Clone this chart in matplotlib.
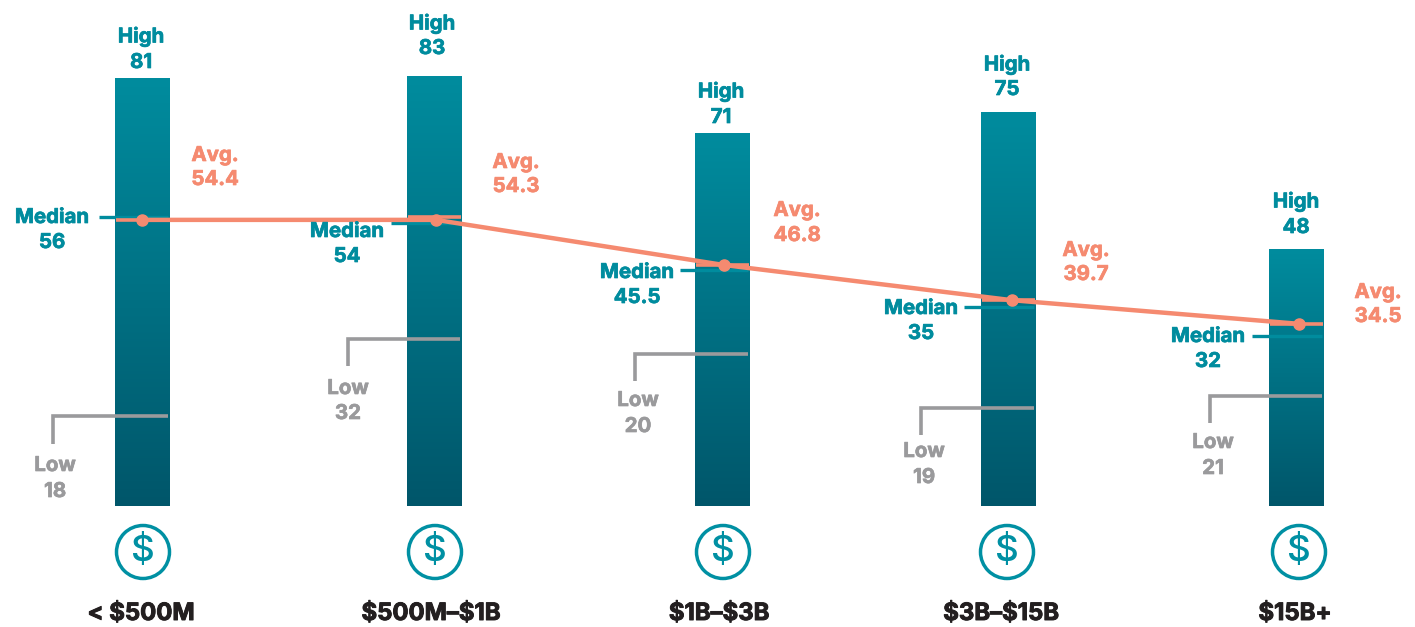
import numpy as np
import matplotlib
matplotlib.use("Agg")
import matplotlib.pyplot as plt
import matplotlib.patheffects as pe
from matplotlib.patches import Circle

# segment labels and the numbers printed on the chart
segments = ["< \\$500M", "\\$500M–\\$1B", "\\$1B–\\$3B", "\\$3B–\\$15B", "\\$15B+"]
high_labels = ["81", "83", "71", "75", "48"]
median_labels = ["56", "54", "45.5", "35", "32"]
low_labels = ["18", "32", "20", "19", "21"]
avg_labels = ["54.4", "54.3", "46.8", "39.7", "34.5"]

# heights as they are actually drawn, these don't always agree with the printed numbers
high_drawn = [81.5, 81.9, 70.9, 75.0, 48.8]
median_drawn = [55.0, 53.9, 45.0, 38.0, 32.4]
low_drawn = [17.1, 31.8, 29.0, 18.7, 21.0]
avg_drawn = [54.5, 54.5, 45.9, 39.2, 34.7]
avg_tick = [54.4, 55.0, 45.9, 39.2, 34.7]

# layout in pixels
bar_x = [142.5, 434.5, 722.5, 1008.5, 1296.5]
dot_x = [142, 436, 724, 1012, 1299]
icon_x = [143, 435, 723, 1007, 1299]
seg_x = [141, 431, 719, 1001, 1295]
high_pos = [(141, 37, 63), (432, 24, 49), (721, 92, 118), (1007, 65, 90), (1296, 202, 228)]
avg_pos = [(215, 156, 180), (516, 163, 187), (797, 211, 236), (1086, 251, 275), (1378, 293, 317)]
med_pos = [(52, 218, 243), (347, 232, 257), (637, 273, 298), (921, 309, 334), (1208, 337, 362)]
low_pos = [(55, 466, 492), (348, 389, 414), (638, 401, 427), (924, 452, 478), (1213, 443, 469)]
low_corner_x = [53, 348, 635, 921, 1210]
med_stub_start = [99, 391, 680, 964, 1252]

TEAL = "#008c9e"
SALMON = "#f58a70"
GREY = "#9a9a9c"
DARK = "#231f20"
BASE_Y = 506
PX_PER_UNIT = 5.25
LOW_DROP = 5.2  # length of the bracket's vertical part, in chart units

plt.rcParams["font.family"] = ["Inter", "DejaVu Sans"]
fig = plt.figure(figsize=(14.15, 6.27), dpi=100)

# axes covers the whole figure: x in pixels, y in chart units
ax = fig.add_axes([0, 0, 1, 1])
ax.axis("off")

# overlay in plain pixels for text and icons
over = fig.add_axes([0, 0, 1, 1])
over.axis("off")
over.patch.set_alpha(0)
over.set_xlim(0, 1415)
over.set_ylim(627, 0)

cmap = matplotlib.colors.LinearSegmentedColormap.from_list("bar", [TEAL, "#00566a"])
grad = np.linspace(0, 1, 256).reshape(-1, 1)
for x, top in zip(bar_x, high_drawn):
    ax.imshow(grad, cmap=cmap, aspect="auto", extent=(x - 27.5, x + 27.5, 0, top), zorder=1)

ax.set_xlim(0, 1415)
ax.set_ylim((BASE_Y - 627) / PX_PER_UNIT, BASE_Y / PX_PER_UNIT)


def heavy(color, width=0.5):
    # Inter bold is a bit lighter than the original lettering
    return [pe.withStroke(linewidth=width, foreground=color)]


def two_line(pos, first, second, color):
    x, y1, y2 = pos
    for y, s in ((y1, first), (y2, second)):
        over.text(x, y, s, color=color, fontsize=14.7, fontweight="bold", ha="center", va="center",
                  path_effects=heavy(color))


for i in range(5):
    x = bar_x[i]
    # low bracket
    ly = low_drawn[i]
    ax.plot([low_corner_x[i], low_corner_x[i], x + 25.5],
            [ly - LOW_DROP, ly, ly], color=GREY, lw=2.6, solid_capstyle="butt",
            solid_joinstyle="miter", zorder=2)
    # median stub and line through the bar
    my = median_drawn[i]
    ax.plot([med_stub_start[i], x + 25.5], [my, my], color=TEAL, lw=2.4, solid_capstyle="butt", zorder=2)
    # salmon tick across the bar at the average
    ax.plot([x - 27, x + 26], [avg_tick[i], avg_tick[i]], color=SALMON, lw=2.6, solid_capstyle="butt", zorder=3)

    two_line(high_pos[i], "High", high_labels[i], TEAL)
    two_line(avg_pos[i], "Avg.", avg_labels[i], SALMON)
    two_line(med_pos[i], "Median", median_labels[i], TEAL)
    two_line(low_pos[i], "Low", low_labels[i], GREY)

    # dollar icon and segment name
    over.add_patch(Circle((icon_x[i], 552), 26.5, fill=False, edgecolor="#0090a3", lw=2.5))
    over.text(icon_x[i], 551, "\\$", color="#0090a3", fontsize=26.5, fontweight="medium", ha="center", va="center")
    over.text(seg_x[i], 614, segments[i], color=DARK, fontsize=17.2, fontweight="bold", ha="center", va="center",
              path_effects=heavy(DARK, 0.7))

# average line from dot to dot, the ticks carry it to the bar edges
ax.plot(dot_x, avg_drawn, color=SALMON, lw=3.2, zorder=3, solid_capstyle="butt")
ax.plot(dot_x, avg_drawn, "o", color=SALMON, ms=8, zorder=4)

fig.savefig("out.png", dpi=100)
